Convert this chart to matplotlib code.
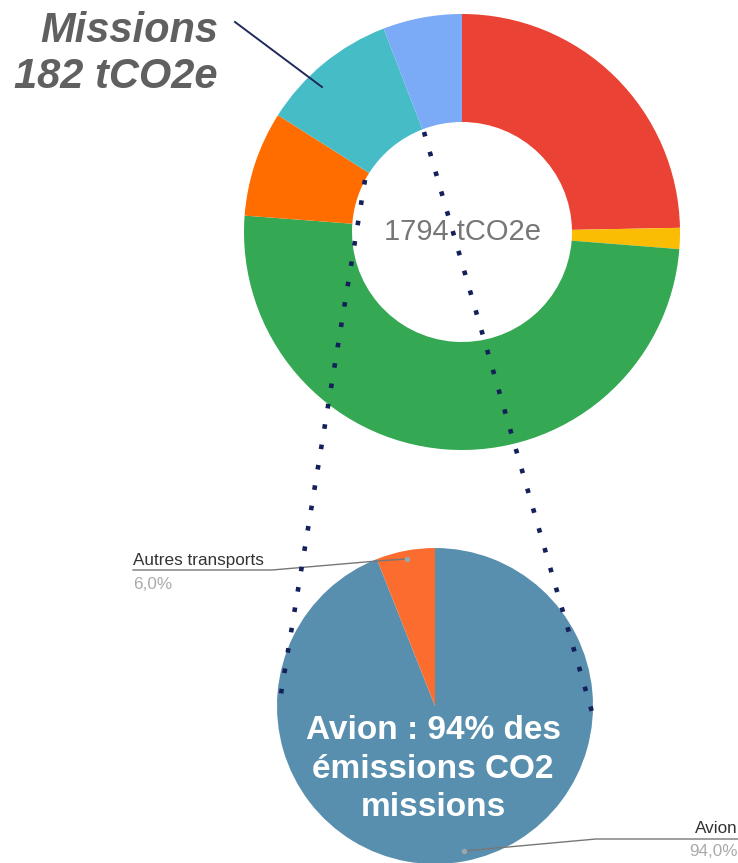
import matplotlib
matplotlib.use('Agg')
import matplotlib.pyplot as plt

plt.rcParams['font.family'] = ['Liberation Sans', 'DejaVu Sans']

# donut: total emissions by category (tCO2e)
donut_values = [443, 28, 896, 140, 182, 105]
donut_colors = ["#EA4335", "#FBBC04", "#34A853", "#FF6D01", "#46BDC6", "#7BAAF7"]
total_label = "1794 tCO2e"
missions_label = "Missions\n182 tCO2e"

# pie: split of the missions
mission_labels = ["Avion", "Autres transports"]
mission_shares = [94.0, 6.0]
mission_colors = ["#588FAE", "#FB6D2E"]
mission_text = "Avion : 94% des\némissions CO2\nmissions"

W, H = 738, 863

def Y(py):
    # picture rows run downwards, axes y upwards
    return H - py

fig = plt.figure(figsize=(W / 100, H / 100), dpi=100)
ax = fig.add_axes([0, 0, 1, 1])

# top donut
ax.pie(donut_values, colors=donut_colors, center=(462, Y(232)), radius=218,
       startangle=90, counterclock=False, frame=True,
       wedgeprops=dict(width=108, linewidth=0))
ax.text(462, Y(232), total_label, ha='center', va='center',
        fontsize=21, color='#777777')

# mission pie
ax.pie(mission_shares, colors=mission_colors, center=(435, Y(706)), radius=158,
       startangle=90, counterclock=False, frame=True,
       wedgeprops=dict(linewidth=0))
ax.text(433, Y(769), mission_text, ha='center', va='center', fontsize=24,
        fontweight='bold', color='white', linespacing=1.32)

# big label + leader line
ax.text(218, Y(88), missions_label, ha='right', va='baseline', fontsize=30,
        fontweight='bold', fontstyle='italic', color='#606060', linespacing=1.2)
ax.plot([235, 322], [Y(22), Y(87)], color='#1F2A5A', lw=1.4)

# dotted zoom lines
navy = '#14205A'
for (x0, y0), (x1, y1) in [((365, 180), (279, 706)), ((424, 132), (592, 712))]:
    ax.plot([x0, x1], [Y(y0), Y(y1)], color=navy, lw=3.3,
            linestyle=(0, (1, 3.5)), dash_capstyle='butt', zorder=5)

# pie labels with leaders
ax.text(133, Y(565), mission_labels[1], ha='left', va='baseline',
        fontsize=12.3, color='#333333')
ax.text(133, Y(589), f"{mission_shares[1]:.1f}%".replace('.', ','),
        ha='left', va='baseline', fontsize=12.3, color='#AAAAAA')
ax.plot([133, 272, 377, 407], [Y(570), Y(570), Y(561), Y(559)],
        color='#777777', lw=1.0, zorder=4)
ax.plot([407], [Y(559)], 'o', ms=3, color='#9AA5AD', zorder=4)

ax.text(738, Y(833), mission_labels[0], ha='right', va='baseline',
        fontsize=12.3, color='#333333')
ax.text(738, Y(856), f"{mission_shares[0]:.1f}%".replace('.', ','),
        ha='right', va='baseline', fontsize=12.3, color='#AAAAAA')
ax.plot([738, 596, 464], [Y(839), Y(839), Y(851)],
        color='#777777', lw=1.0, zorder=4)
ax.plot([464], [Y(851)], 'o', ms=3, color='#9AA5AD', zorder=4)

ax.set_xlim(0, W)
ax.set_ylim(0, H)
ax.set_aspect('auto')
ax.axis('off')

fig.savefig('out.png', dpi=100, facecolor='white')
plt.close(fig)
